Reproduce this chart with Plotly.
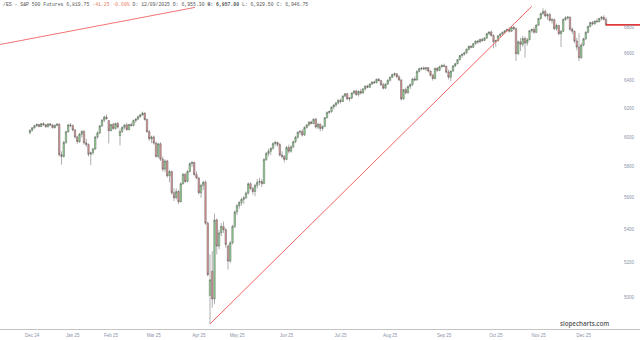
import plotly.graph_objects as go
import math

# ---- data ----
opens = [
 6030, 6048, 6066, 6080, 6088, 6074, 6094, 6086, 6072, 6092,
 6084, 6066, 6082, 6090, 5882, 5870, 5965, 6038, 6085, 6080,
 6050, 6002, 5970, 6020, 6040, 5962, 5950, 5885, 5895, 5920,
 6002, 6030, 6078, 6118, 6140, 6115, 6045, 6088, 6060, 6095,
 6010, 6040, 6068, 6085, 6052, 6088, 6080, 6115, 6125, 6142,
 6155, 6168, 6122, 6038, 5990, 6002, 5960, 5870, 5955, 5852,
 5785, 5840, 5742, 5770, 5632, 5600, 5640, 5575, 5690, 5752,
 5705, 5770, 5822, 5830, 5750, 5728, 5632, 5680, 5700, 5440,
 5010, 5150, 4990, 5460, 5300, 5380, 5420, 5400, 5300, 5210,
 5320, 5420, 5510, 5550, 5570, 5590, 5600, 5630, 5690, 5660,
 5640, 5680, 5700, 5705, 5690, 5850, 5890, 5905, 5925, 5958,
 5965, 5950, 5880, 5870, 5850, 5930, 5905, 5935, 5970, 6000,
 6035, 6040, 6015, 6068, 6085, 6105, 6095, 6125, 6070, 6090,
 6060, 6075, 6135, 6172, 6178, 6210, 6225, 6240, 6258, 6250,
 6288, 6305, 6268, 6275, 6310, 6325, 6300, 6322, 6310, 6340,
 6360, 6352, 6375, 6390, 6385, 6410, 6400, 6370, 6345, 6375,
 6402, 6425, 6445, 6450, 6428, 6405, 6268, 6335, 6312, 6358,
 6372, 6412, 6405, 6468, 6488, 6492, 6485, 6495, 6470, 6440,
 6415, 6490, 6475, 6502, 6512, 6505, 6462, 6425, 6470, 6508,
 6525, 6555, 6585, 6595, 6605, 6632, 6655, 6648, 6675, 6695,
 6688, 6708, 6700, 6718, 6752, 6765, 6738, 6690, 6698, 6735,
 6750, 6762, 6775, 6785, 6770, 6802, 6790, 6600, 6690, 6670,
 6715, 6680, 6705, 6775, 6785, 6762, 6818, 6870, 6908, 6925,
 6890, 6900, 6855, 6860, 6790, 6815, 6752, 6770, 6862, 6875,
 6880, 6785, 6770, 6695, 6650, 6570, 6665, 6712, 6762, 6808,
 6838, 6828, 6850, 6845, 6870, 6880, 6861]

highs = [
 6055, 6070, 6085, 6095, 6092, 6098, 6102, 6090, 6096, 6100,
 6092, 6088, 6098, 6096, 5905, 5975, 6045, 6092, 6098, 6088,
 6058, 6010, 6030, 6048, 6050, 5990, 5958, 5902, 5930, 6010,
 6040, 6085, 6125, 6150, 6158, 6118, 6092, 6100, 6100, 6105,
 6060, 6075, 6090, 6100, 6092, 6102, 6122, 6132, 6150, 6160,
 6178, 6172, 6128, 6050, 6010, 6012, 5970, 5962, 5965, 5870,
 5850, 5848, 5780, 5775, 5660, 5660, 5650, 5700, 5760, 5758,
 5780, 5830, 5840, 5835, 5770, 5732, 5690, 5710, 5712, 5450,
 5250, 5270, 5500, 5470, 5400, 5440, 5450, 5410, 5310, 5330,
 5430, 5520, 5560, 5580, 5600, 5610, 5640, 5700, 5700, 5670,
 5690, 5720, 5730, 5720, 5860, 5900, 5920, 5930, 5965, 5975,
 5970, 5960, 5905, 5880, 5940, 5950, 5945, 5975, 6010, 6040,
 6050, 6055, 6075, 6090, 6110, 6115, 6130, 6135, 6100, 6095,
 6080, 6140, 6180, 6185, 6215, 6230, 6245, 6265, 6270, 6295,
 6310, 6310, 6280, 6315, 6330, 6335, 6330, 6340, 6345, 6365,
 6370, 6380, 6395, 6400, 6415, 6420, 6405, 6385, 6380, 6410,
 6430, 6450, 6460, 6455, 6440, 6410, 6340, 6350, 6365, 6380,
 6420, 6430, 6475, 6495, 6500, 6505, 6500, 6500, 6475, 6450,
 6495, 6500, 6510, 6520, 6525, 6510, 6480, 6475, 6515, 6530,
 6560, 6590, 6600, 6615, 6640, 6660, 6665, 6680, 6700, 6705,
 6715, 6720, 6725, 6760, 6770, 6775, 6745, 6705, 6740, 6755,
 6770, 6780, 6790, 6800, 6808, 6810, 6800, 6700, 6720, 6735,
 6730, 6720, 6780, 6790, 6800, 6825, 6875, 6915, 6950, 6940,
 6912, 6915, 6875, 6870, 6830, 6820, 6780, 6870, 6888, 6890,
 6885, 6800, 6775, 6720, 6755, 6680, 6720, 6770, 6815, 6845,
 6850, 6855, 6870, 6875, 6890, 6895, 6878]

lows = [
 6020, 6040, 6058, 6070, 6068, 6070, 6080, 6066, 6068, 6078,
 6060, 6060, 6074, 5870, 5815, 5862, 5955, 6030, 6070, 6040,
 5990, 5955, 5962, 5998, 5950, 5935, 5870, 5812, 5880, 5915,
 5990, 6022, 6070, 6105, 6120, 5958, 6040, 6050, 6052, 6060,
 5945, 6030, 6055, 6045, 6048, 6075, 6075, 6100, 6118, 6135,
 6148, 6115, 6030, 5975, 5960, 5950, 5862, 5858, 5840, 5770,
 5765, 5730, 5700, 5620, 5580, 5590, 5560, 5570, 5685, 5695,
 5700, 5765, 5800, 5740, 5720, 5620, 5600, 5650, 5430, 5120,
 4850, 4940, 4960, 5250, 5280, 5360, 5380, 5290, 5160, 5200,
 5310, 5410, 5490, 5530, 5550, 5560, 5590, 5620, 5650, 5620,
 5610, 5660, 5680, 5670, 5690, 5840, 5870, 5880, 5915, 5940,
 5935, 5870, 5855, 5830, 5845, 5890, 5895, 5925, 5960, 5990,
 6020, 6005, 6010, 6060, 6075, 6090, 6090, 6060, 6055, 6040,
 6045, 6070, 6130, 6160, 6170, 6195, 6210, 6230, 6235, 6245,
 6280, 6260, 6250, 6265, 6300, 6290, 6285, 6300, 6305, 6330,
 6345, 6348, 6368, 6375, 6380, 6395, 6360, 6335, 6340, 6370,
 6395, 6418, 6430, 6420, 6395, 6255, 6262, 6300, 6305, 6340,
 6360, 6395, 6400, 6460, 6475, 6480, 6470, 6460, 6430, 6400,
 6410, 6465, 6470, 6495, 6500, 6455, 6410, 6395, 6465, 6500,
 6520, 6550, 6570, 6585, 6600, 6625, 6640, 6642, 6668, 6675,
 6680, 6690, 6695, 6712, 6740, 6730, 6640, 6650, 6690, 6725,
 6742, 6755, 6768, 6760, 6765, 6780, 6545, 6590, 6620, 6650,
 6570, 6660, 6700, 6760, 6750, 6755, 6812, 6860, 6895, 6880,
 6860, 6845, 6830, 6780, 6775, 6740, 6650, 6765, 6850, 6860,
 6770, 6750, 6680, 6625, 6545, 6560, 6655, 6705, 6755, 6800,
 6815, 6820, 6835, 6840, 6855, 6855, 6812]

closes = [
 6048, 6066, 6080, 6088, 6074, 6094, 6086, 6072, 6092, 6084,
 6066, 6082, 6090, 5882, 5870, 5965, 6038, 6085, 6080, 6050,
 6002, 5970, 6020, 6040, 5962, 5950, 5885, 5895, 5920, 6002,
 6030, 6078, 6118, 6140, 6130, 6045, 6088, 6060, 6095, 6070,
 6040, 6068, 6085, 6052, 6088, 6080, 6115, 6125, 6142, 6155,
 6168, 6122, 6038, 5990, 6002, 5960, 5870, 5955, 5852, 5785,
 5840, 5742, 5770, 5632, 5600, 5640, 5575, 5690, 5752, 5705,
 5770, 5822, 5830, 5750, 5728, 5632, 5680, 5700, 5440, 5130,
 5100, 4990, 5460, 5300, 5380, 5420, 5400, 5310, 5210, 5320,
 5420, 5510, 5550, 5570, 5590, 5600, 5630, 5690, 5660, 5640,
 5680, 5700, 5705, 5690, 5850, 5890, 5905, 5925, 5958, 5965,
 5950, 5880, 5870, 5850, 5930, 5905, 5935, 5970, 6000, 6035,
 6040, 6015, 6068, 6085, 6105, 6095, 6125, 6070, 6090, 6060,
 6075, 6135, 6172, 6178, 6210, 6225, 6240, 6258, 6250, 6288,
 6305, 6268, 6275, 6310, 6325, 6300, 6322, 6310, 6340, 6360,
 6352, 6375, 6390, 6385, 6410, 6400, 6370, 6345, 6375, 6402,
 6425, 6445, 6450, 6428, 6405, 6268, 6335, 6312, 6358, 6372,
 6412, 6405, 6468, 6488, 6492, 6485, 6495, 6470, 6440, 6415,
 6490, 6475, 6502, 6512, 6505, 6462, 6425, 6470, 6508, 6525,
 6555, 6585, 6595, 6605, 6632, 6655, 6648, 6675, 6695, 6688,
 6708, 6700, 6718, 6752, 6765, 6738, 6690, 6698, 6735, 6750,
 6762, 6775, 6785, 6770, 6802, 6790, 6600, 6690, 6670, 6715,
 6680, 6705, 6775, 6785, 6762, 6818, 6870, 6908, 6925, 6890,
 6900, 6855, 6860, 6790, 6815, 6752, 6770, 6862, 6875, 6880,
 6785, 6770, 6695, 6650, 6570, 6665, 6712, 6762, 6808, 6838,
 6828, 6850, 6845, 6870, 6880, 6861, 6819.75]

month_labels = ["Dec 24", "Jan 25", "Feb 25", "Mar 25", "Apr 25", "May 25", "Jun 25",
                "Jul 25", "Aug 25", "Sep 25", "Oct 25", "Nov 25", "Dec 25"]
month_ticks = [1, 19, 36, 55, 75, 92, 114, 138, 160, 184, 207, 226, 246]

price_ticks = [5000, 5200, 5400, 5600, 5800, 6000, 6200, 6400, 6600, 6800]

# drawn trendlines (bar index, price)
trend_up_bars = [80, 223]
trend_up_prices = [4850, 6965]
trend_left_bars = [-13.3, 73.3]
trend_left_prices = [6669, 6957]

header = ("/ES - S&P 500 Futures 6,819.75 "
          "<span style='color:#e8805f'>-41.25 -0.60%</span> "
          "D: 12/09/2025 O: 6,955.30 <b>H: 6,957.00</b> L: 6,929.50 C: 6,946.75")

bars = list(range(len(closes)))

fig = go.Figure()
fig.add_trace(go.Candlestick(
    x=bars, open=opens, high=highs, low=lows, close=closes,
    increasing=dict(line=dict(color="#4d4d4d", width=0.45), fillcolor="#95e095"),
    decreasing=dict(line=dict(color="#4d4d4d", width=0.45), fillcolor="#ea9c9c"),
    whiskerwidth=0, showlegend=False, hoverinfo="skip"))

fig.add_trace(go.Scatter(x=trend_up_bars, y=trend_up_prices, mode="lines",
                         line=dict(color="#f26464", width=1.0), showlegend=False, hoverinfo="skip"))
fig.add_trace(go.Scatter(x=trend_left_bars, y=trend_left_prices, mode="lines",
                         line=dict(color="#f26464", width=0.9), showlegend=False, hoverinfo="skip"))

x_lo, x_hi = -13.33, 271.1
fig.add_trace(go.Scatter(x=[bars[-1], x_hi], y=[closes[-1], closes[-1]], mode="lines",
                         line=dict(color="#e03a3a", width=1.6), showlegend=False, hoverinfo="skip"))

annotations = [
    dict(xref="paper", yref="paper", x=0.002, y=1.0, xanchor="left", yanchor="top",
         text=header, showarrow=False,
         font=dict(size=4.8, color="#555555", family="Liberation Mono")),
    dict(xref="paper", yref="paper", x=584/640, y=0.018, xanchor="center", yanchor="middle",
         text="slopecharts.com", showarrow=False,
         font=dict(size=6.2, color="#555555", family="Open Sans", weight=600)),
]
# price axis labels on the right, inside the plot
for v in price_ticks:
    annotations.append(dict(xref="paper", yref="y", x=0.996, y=math.log10(v),
                            xanchor="right", yanchor="middle", text=str(v), showarrow=False,
                            font=dict(size=4.5, color="#8a94a8", family="Liberation Sans")))

fig.update_layout(
    width=640, height=340,
    margin=dict(l=0, r=0, t=0, b=11, autoexpand=False),
    paper_bgcolor="white", plot_bgcolor="white",
    boxgap=0.1,
    xaxis=dict(range=[x_lo, x_hi], rangeslider=dict(visible=False), automargin=False,
               showgrid=False, zeroline=False,
               tickmode="array", tickvals=month_ticks, ticktext=month_labels,
               tickfont=dict(size=4.5, color="#8a94a8", family="Liberation Sans"),
               ticklabelstandoff=2,
               showline=True, linecolor="#c4c4c4", linewidth=1, ticks=""),
    yaxis=dict(type="log", range=[math.log10(4822), math.log10(7016)], automargin=False,
               showticklabels=False,
               showgrid=False, zeroline=False, showline=False, ticks=""),
    annotations=annotations,
)

fig.write_html("out.html")
